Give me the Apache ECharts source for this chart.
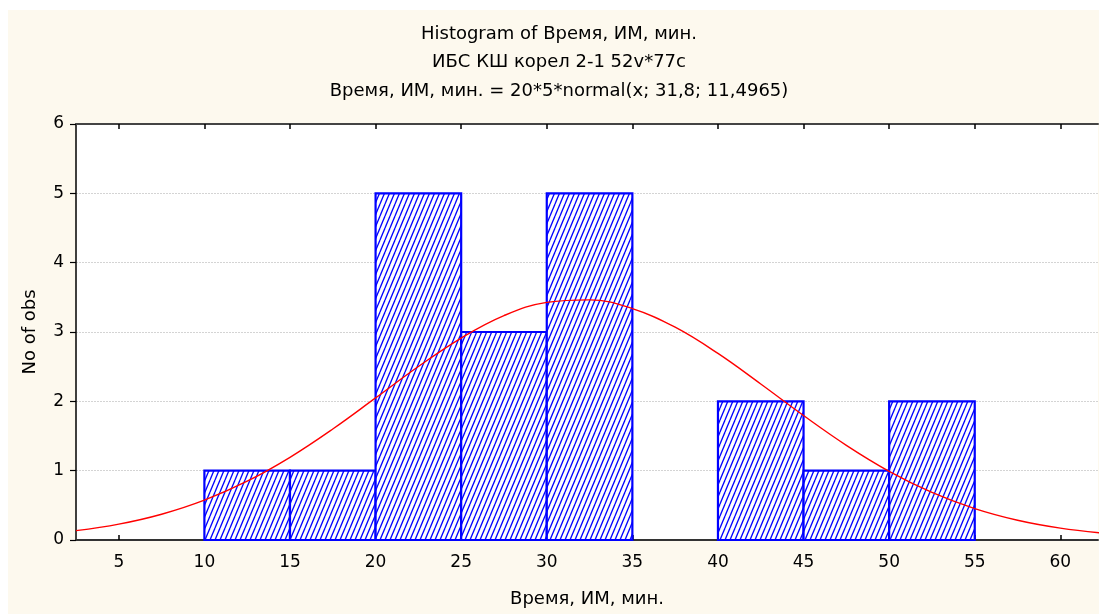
<!DOCTYPE html>
<html><head><meta charset="utf-8">
<script src="https://cdn.jsdelivr.net/npm/echarts@6/dist/echarts.min.js"></script>
<style>html,body{margin:0;padding:0;background:#fff}#c{width:1099px;height:614px}</style>
</head><body><div id="c"></div>
<script>
var titleLines = ['Histogram of Время, ИМ, мин.', 'ИБС КШ корел 2-1 52v*77c', 'Время, ИМ, мин. = 20*5*normal(x; 31,8; 11,4965)'];
var xAxisName = 'Время, ИМ, мин.';
var yAxisName = 'No of obs';
var binStarts = [10, 15, 20, 25, 30, 35, 40, 45, 50];
var binEnds   = [15, 20, 25, 30, 35, 40, 45, 50, 55];
var counts    = [1, 1, 5, 3, 5, 0, 2, 1, 2];
var xTicks = [5, 10, 15, 20, 25, 30, 35, 40, 45, 50, 55, 60];
var curveX = [2.5, 5, 7.5, 10, 12.5, 15, 17.5, 20, 22.5, 25, 27.5, 30, 32.5, 35, 37.5, 40, 42.5, 45, 47.5, 50, 52.5, 55, 57.5, 60, 62.5];
var curveY = [0.135, 0.229, 0.372, 0.575, 0.848, 1.193, 1.601, 2.049, 2.502, 2.913, 3.236, 3.428, 3.464, 3.338, 3.069, 2.691, 2.250, 1.795, 1.366, 0.991, 0.686, 0.453, 0.285, 0.171, 0.098];

var FONT = '"DejaVu Sans", "Liberation Sans", Arial, sans-serif';

// hatch pattern
var TW = 5, TH = 12;
var pc = document.createElement('canvas');
pc.width = TW; pc.height = TH;
var g = pc.getContext('2d');
g.fillStyle = '#ffffff'; g.fillRect(0, 0, TW, TH);
g.strokeStyle = '#0000ff'; g.lineWidth = 1.3;
for (var k = -1; k <= 1; k++) {
  g.beginPath(); g.moveTo(k * TW, TH); g.lineTo(k * TW + TW, 0); g.stroke();
}

var bars = [];
for (var i = 0; i < counts.length; i++) {
  if (counts[i] > 0) bars.push([binStarts[i], binEnds[i], counts[i]]);
}
var curve = curveX.map(function (x, i) { return [x, curveY[i]]; });

var chart = echarts.init(document.getElementById('c'), null, {renderer: 'canvas'});
chart.setOption({
  backgroundColor: '#ffffff',
  animation: false,
  graphic: [{
    type: 'rect', z: -10, silent: true,
    shape: {x: 8, y: 10, width: 1091, height: 604},
    style: {fill: '#fdf9ee'}
  }],
  title: titleLines.map(function (t, i) {
    return {
      text: t, left: 559, top: 23 + i * 28.5, textAlign: 'center', padding: 0,
      textStyle: {fontFamily: FONT, fontSize: 18, lineHeight: 22, fontWeight: 'normal', color: '#000'}
    };
  }),
  grid: {left: 76, top: 124, right: 1, bottom: 74, show: true, backgroundColor: '#ffffff', borderWidth: 0, containLabel: false},
  xAxis: [{
    type: 'value', min: 2.5, max: 62.2, position: 'bottom',
    name: xAxisName, nameLocation: 'middle', nameGap: 50,
    nameTextStyle: {fontFamily: FONT, fontSize: 18, color: '#000'},
    axisLine: {show: true, onZero: false, lineStyle: {color: '#333', width: 2}},
    axisTick: {show: true, inside: true, length: 5, customValues: xTicks, lineStyle: {color: '#000', width: 1.5}},
    axisLabel: {customValues: xTicks, fontFamily: FONT, fontSize: 17, color: '#000', margin: 14},
    splitLine: {show: false}
  }, {
    type: 'value', min: 2.5, max: 62.2, position: 'top',
    axisLine: {show: true, onZero: false, lineStyle: {color: '#444', width: 2}},
    axisTick: {show: true, inside: true, length: 5, customValues: xTicks, lineStyle: {color: '#000', width: 1.5}},
    axisLabel: {show: false},
    splitLine: {show: false}
  }],
  yAxis: [{
    type: 'value', min: 0, max: 6, interval: 1,
    name: yAxisName, nameLocation: 'middle', nameGap: 37,
    nameTextStyle: {fontFamily: FONT, fontSize: 18, color: '#000'},
    axisLine: {show: true, onZero: false, lineStyle: {color: '#000', width: 1.5}},
    axisTick: {show: true, inside: false, length: 6, lineStyle: {color: '#000', width: 1.2}},
    axisLabel: {fontFamily: FONT, fontSize: 17, color: '#000', margin: 12},
    splitLine: {show: true, lineStyle: {color: '#d4d4d4', type: [2, 1], width: 1}}
  }],
  series: [{
    type: 'custom', xAxisIndex: 0, yAxisIndex: 0, z: 2,
    data: bars,
    renderItem: function (params, api) {
      var p0 = api.coord([api.value(0), api.value(2)]);
      var p1 = api.coord([api.value(1), 0]);
      return {
        type: 'rect',
        shape: {x: p0[0], y: p0[1], width: p1[0] - p0[0], height: p1[1] - p0[1]},
        style: {fill: {image: pc, repeat: 'repeat'}, stroke: '#0000ff', lineWidth: 2.2}
      };
    }
  }, {
    type: 'line', xAxisIndex: 0, yAxisIndex: 0, z: 3,
    data: curve, smooth: 0.4, showSymbol: false, symbol: 'none',
    lineStyle: {color: '#ff0000', width: 1.4},
    clip: true
  }]
});
</script></body></html>
